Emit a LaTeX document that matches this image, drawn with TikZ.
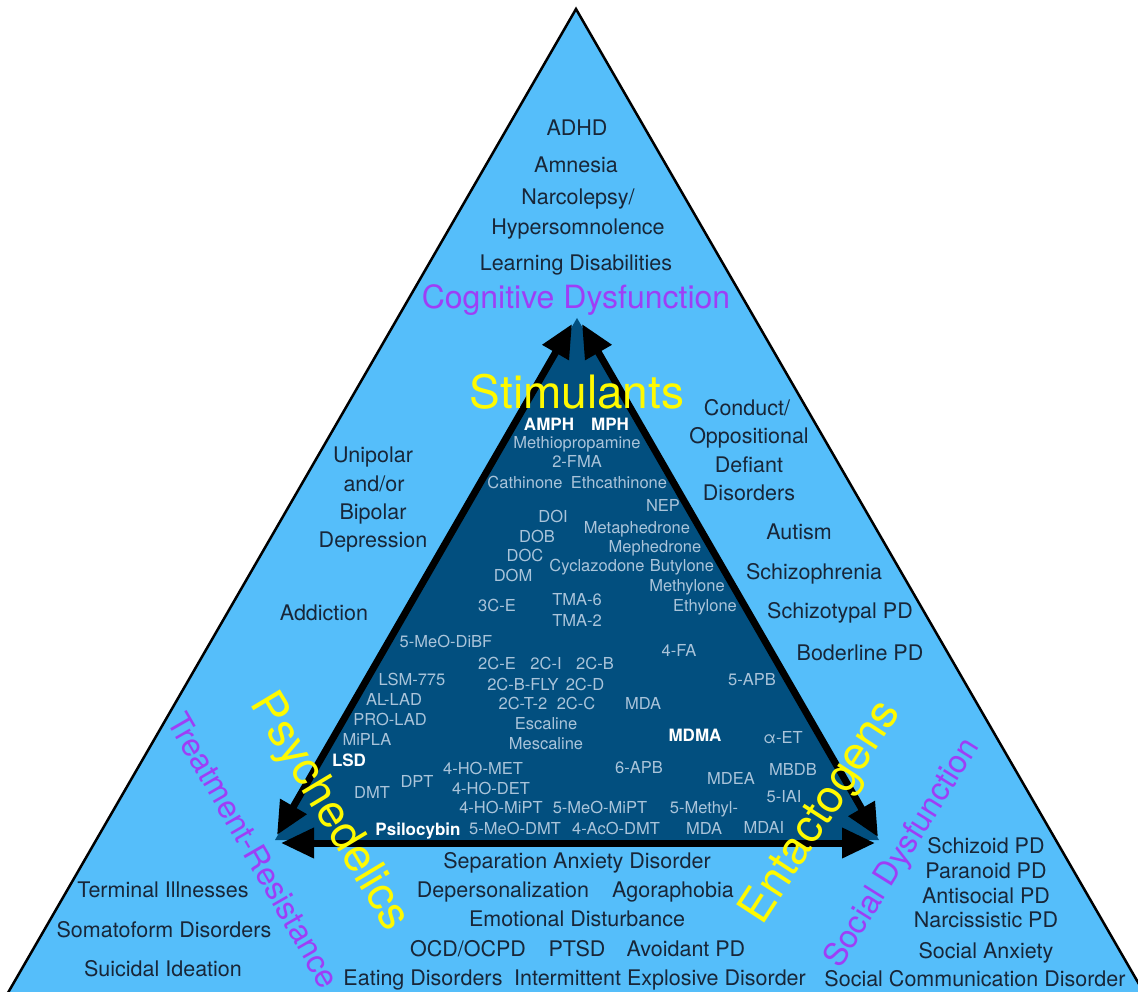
\documentclass[tikz,border=0pt]{standalone}
\usepackage{fontspec}
\setmainfont{TeX Gyre Heros}
\usetikzlibrary{arrows.meta}
\definecolor{lblue}{RGB}{85,190,250}
\definecolor{dblue}{RGB}{2,79,127}
\definecolor{ctext}{RGB}{170,196,218}
\definecolor{dtext}{RGB}{24,38,56}
\definecolor{purp}{RGB}{158,62,246}
\definecolor{yel}{RGB}{255,250,0}
\tikzset{
 dis/.style={font=\fontsize{21.5}{24}\selectfont, text=dtext, inner sep=0pt, text height=15.5pt, text depth=0pt},
 cmp/.style={font=\fontsize{16.5}{19}\selectfont, text=ctext, inner sep=0pt, text height=11.9pt, text depth=0pt},
 cmpb/.style={font=\fontsize{17}{19}\selectfont\bfseries, text=white, inner sep=0pt, text height=12.3pt, text depth=0pt},
 cls/.style={font=\fontsize{46}{50}\selectfont, text=yel, inner sep=0pt, text height=33pt, text depth=0pt},
 grp/.style={font=\fontsize{32}{36}\selectfont, text=purp, inner sep=0pt, text height=23pt, text depth=0pt},
 arr/.style={line width=7pt, draw=black, {Triangle[length=33pt,width=29pt]}-{Triangle[length=33pt,width=29pt]}},
}
\begin{document}
\begin{tikzpicture}[x=1pt,y=-1pt]
\useasboundingbox (0,0) rectangle (1138,992);
\fill[white] (0,0) rectangle (1138,992);
\begin{scope}
\clip (0,0) rectangle (1138,992);
% outer triangle
\coordinate (OA) at (576,9);
\coordinate (OL) at (-54.5,1101);
\coordinate (OR) at (1206.5,1101);
\filldraw[fill=lblue, draw=black, line width=2.5pt, line join=miter] (OL) -- (OA) -- (OR) -- cycle;
% inner triangle
\coordinate (IA) at (577,318);
\coordinate (IL) at (275,840);
\coordinate (IR) at (879,840);
\fill[dblue] (IA) -- (IL) -- (IR) -- cycle;
% arrows
\coordinate (LT) at (572,324);
\coordinate (LB) at (277,835);
\coordinate (RT) at (582,324);
\coordinate (RB) at (878,837);
\coordinate (BL) at (281,843);
\coordinate (BR) at (875,843);
\draw[arr] (LT) -- (LB);
\draw[arr] (RT) -- (RB);
\draw[arr] (BL) -- (BR);

% top disorders
\node[dis] (adhd) at (577,128) {ADHD};
\node[dis] (amn) at (576,165) {Amnesia};
\node[dis] (narc) at (578,197) {Narcolepsy/};
\node[dis] (hyp) at (578,227) {Hypersomnolence};
\node[dis] (learn) at (576,263) {Learning Disabilities};
\node[grp] (cog) at (576,297) {Cognitive Dysfunction};

% left disorders
\node[dis] (uni) at (373,455) {Unipolar};
\node[dis] (andor) at (374,484) {and/or};
\node[dis] (bip) at (373,512) {Bipolar};
\node[dis] (dep) at (373,540) {Depression};
\node[dis] (addi) at (324,613) {Addiction};

% right disorders
\node[dis] (cond) at (747,408) {Conduct/};
\node[dis] (opp) at (749,436) {Oppositional};
\node[dis] (defi) at (749,465) {Defiant};
\node[dis] (disord) at (749,493) {Disorders};
\node[dis] (aut) at (799,532) {Autism};
\node[dis] (schz) at (814,572) {Schizophrenia};
\node[dis] (schzt) at (840,611) {Schizotypal PD};
\node[dis] (bord) at (860,653) {Boderline PD};

% bottom centre disorders
\node[dis] (sep) at (577,861) {Separation Anxiety Disorder};
\node[dis] (deper) at (503,890) {Depersonalization};
\node[dis] (agor) at (673,890) {Agoraphobia};
\node[dis] (emo) at (577,919) {Emotional Disturbance};
\node[dis] (ocd) at (468,949) {OCD/OCPD};
\node[dis] (ptsd) at (577,949) {PTSD};
\node[dis] (avoid) at (686,949) {Avoidant PD};
\node[dis] (eat) at (423,978) {Eating Disorders};
\node[dis] (ied) at (660,978) {Intermittent Explosive Disorder};

% bottom left disorders
\node[dis] (term) at (163,890) {Terminal Illnesses};
\node[dis] (soma) at (164,930) {Somatoform Disorders};
\node[dis] (suic) at (163,969) {Suicidal Ideation};
\node[grp, rotate=-60] (trr) at (254,850) {Treatment-Resistance};

% bottom right disorders
\node[dis] (schd) at (986,846) {Schizoid PD};
\node[dis] (para) at (986,871) {Paranoid PD};
\node[dis] (anti) at (986,896) {Antisocial PD};
\node[dis] (narci) at (986,920) {Narcissistic PD};
\node[dis] (socanx) at (986,951) {Social Anxiety};
\node[dis] (soccom) at (975,979) {Social Communication Disorder};
\node[grp, rotate=58] (socdys) at (900,852) {Social Dysfunction};

% compounds
\node[cmpb] (amph) at (549,424) {AMPH};
\node[cmpb] (mph) at (610,424) {MPH};
\node[cmp] (mpa) at (577,443) {Methiopropamine};
\node[cmp] (fma) at (577,462) {2-FMA};
\node[cmp] (cath) at (525,483) {Cathinone};
\node[cmp] (ecath) at (619,483) {Ethcathinone};
\node[cmp] (nep) at (663,506) {NEP};
\node[cmp] (doi) at (553,517) {DOI};
\node[cmp] (meta) at (637,528) {Metaphedrone};
\node[cmp] (dob) at (537,537) {DOB};
\node[cmp] (meph) at (655,547) {Mephedrone};
\node[cmp] (doc) at (525,556) {DOC};
\node[cmp] (cycl) at (597,566) {Cyclazodone};
\node[cmp] (buty) at (682,566) {Butylone};
\node[cmp] (dom) at (513,576) {DOM};
\node[cmp] (mthy) at (687,586) {Methylone};
\node[cmp] (tce) at (497,606) {3C-E};
\node[cmp] (tma6) at (577,600) {TMA-6};
\node[cmp] (ethy) at (705,606) {Ethylone};
\node[cmp] (tma2) at (577,621) {TMA-2};
\node[cmp] (dibf) at (446,642) {5-MeO-DiBF};
\node[cmp] (fa) at (679,651) {4-FA};
\node[cmp] (tce2) at (497,664) {2C-E};
\node[cmp] (tci) at (546,664) {2C-I};
\node[cmp] (tcb) at (595,664) {2C-B};
\node[cmp] (lsm) at (412,680) {LSM-775};
\node[cmp] (apb5) at (752,680) {5-APB};
\node[cmp] (fly) at (523,685) {2C-B-FLY};
\node[cmp] (tcd) at (585,685) {2C-D};
\node[cmp] (allad) at (394,700) {AL-LAD};
\node[cmp] (tct) at (523,704) {2C-T-2};
\node[cmp] (tcc) at (576,704) {2C-C};
\node[cmp] (mda) at (643,704) {MDA};
\node[cmp] (prolad) at (390,720) {PRO-LAD};
\node[cmp] (esc) at (546,724) {Escaline};
\node[cmp] (mipla) at (367,740) {MiPLA};
\node[cmp] (mesc) at (546,744) {Mescaline};
\node[cmpb] (mdma) at (695,735) {MDMA};
\node[cmp] (aet) at (783,738) {α-ET};
\node[cmpb] (lsd) at (349,760) {LSD};
\node[cmp] (homet) at (483,769) {4-HO-MET};
\node[cmp] (apb6) at (639,768) {6-APB};
\node[cmp] (mbdb) at (793,770) {MBDB};
\node[cmp] (dpt) at (417,782) {DPT};
\node[cmp] (mdea) at (731,779) {MDEA};
\node[cmp] (hodet) at (491,789) {4-HO-DET};
\node[cmp] (dmt) at (372,793) {DMT};
\node[cmp] (iai) at (784,797) {5-IAI};
\node[cmp] (homipt) at (501,808) {4-HO-MiPT};
\node[cmp] (meomipt) at (600,808) {5-MeO-MiPT};
\node[cmp] (methyl) at (704,808) {5-Methyl-};
\node[cmpb] (psil) at (418,829) {Psilocybin};
\node[cmp] (meodmt) at (515,829) {5-MeO-DMT};
\node[cmp] (acodmt) at (616,829) {4-AcO-DMT};
\node[cmp] (mda2) at (704,829) {MDA};
\node[cmp] (mdai) at (764,828) {MDAI};

% class labels
\node[cls] (stim) at (577,392) {Stimulants};
\node[cls, rotate=-59] (psy) at (333,810) {Psychedelics};
\node[cls, rotate=57] (ent) at (818,810) {Entactogens};
\end{scope}
\end{tikzpicture}
\end{document}
